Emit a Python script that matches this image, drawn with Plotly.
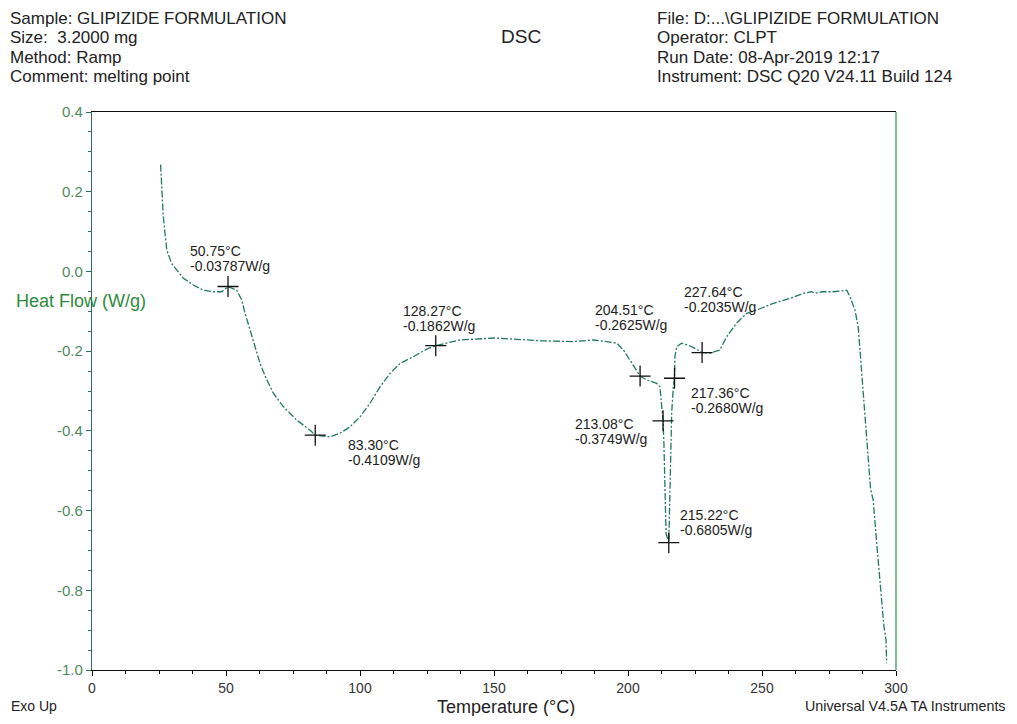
import plotly.graph_objects as go

# ---- data ----
temp_c = [25.6, 25.7, 25.8, 26.0, 26.6, 27.9, 29.7, 31.6, 34.1, 37.8, 41.5, 45.3, 48.4, 50.75,
          54.0, 55.9, 57.1, 59.0, 60.8, 62.7, 65.2, 67.7, 71.4, 76.4, 81.3, 83.3, 88.8, 92.5,
          96.3, 100.0, 103.7, 107.5, 111.2, 114.9, 119.9, 124.9, 128.27, 137.3, 150.4, 167.2,
          179.6, 187.1, 192.0, 195.8, 198.3, 200.7, 203.2, 204.51, 207.0, 210.7, 211.9, 212.6,
          213.08, 213.4, 213.8, 214.2, 215.22, 215.7, 216.0, 216.3, 216.9, 217.36, 217.5, 218.2,
          220.0, 222.5, 225.0, 227.64, 230.6, 234.3, 236.8, 240.5, 244.3, 248.0, 254.2, 260.4,
          265.4, 268.5, 269.8, 272.3, 276.6, 281.6, 282.8, 284.7, 285.9, 286.8, 287.8, 288.8,
          289.7, 290.0, 290.3, 290.1, 290.5, 290.9, 291.5, 292.8, 293.8, 294.7, 295.5, 296.3,
          296.5]
heat_flow = [0.268, 0.250, 0.235, 0.200, 0.137, 0.054, 0.020, 0.004, -0.017, -0.034, -0.047,
             -0.051, -0.051, -0.0379, -0.047, -0.072, -0.105, -0.147, -0.189, -0.231, -0.272,
             -0.306, -0.339, -0.373, -0.398, -0.4109, -0.415, -0.406, -0.390, -0.365, -0.331,
             -0.289, -0.256, -0.231, -0.214, -0.195, -0.1862, -0.172, -0.167, -0.174, -0.176,
             -0.172, -0.176, -0.180, -0.197, -0.222, -0.247, -0.2625, -0.272, -0.281, -0.289,
             -0.331, -0.3749, -0.431, -0.557, -0.657, -0.6805, -0.557, -0.431, -0.356, -0.290,
             -0.2680, -0.214, -0.189, -0.180, -0.185, -0.193, -0.2035, -0.205, -0.197, -0.164,
             -0.130, -0.105, -0.097, -0.080, -0.068, -0.055, -0.051, -0.055, -0.051, -0.051,
             -0.047, -0.063, -0.097, -0.139, -0.222, -0.306, -0.406, -0.473, -0.500, -0.540,
             -0.515, -0.545, -0.557, -0.574, -0.682, -0.766, -0.824, -0.891, -0.925, -0.983]

peak_temp = [50.75, 83.30, 128.27, 204.51, 227.64, 217.36, 213.08, 215.22]
peak_flow = [-0.03787, -0.4109, -0.1862, -0.2625, -0.2035, -0.2680, -0.3749, -0.6805]
# label offsets (pixels) relative to each marker: left edge, line-1 and line-2 centres
label_dx = [-40, 31, -35, -47, -20, 14, -90, 9]
label_dy1 = [36, -10, 35, 66, 61, -15, -3, 28]
label_dy2 = [21, -25, 20, 51, 46, -30, -18, 13]

header_left = ["Sample: GLIPIZIDE FORMULATION", "Size:  3.2000 mg", "Method: Ramp",
               "Comment: melting point"]
header_right = ["File: D:...\\GLIPIZIDE FORMULATION", "Operator: CLPT",
                "Run Date: 08-Apr-2019 12:17", "Instrument: DSC Q20 V24.11 Build 124"]
header_rows_y = [18, 38, 57, 76]

x_ticks = [0, 50, 100, 150, 200, 250, 300]
y_ticks = [0.4, 0.2, 0.0, -0.2, -0.4, -0.6, -0.8, -1.0]

# ---- figure (page has an 8px body margin) ----
PAGE_OFF = 8
W, H = 1017 - 2 * PAGE_OFF, 724 - 2 * PAGE_OFF
L, R, T, B = 92, 896, 112, 670          # plot area in page pixels
FONT = "Arial, Liberation Sans, sans-serif"
CURVE = "#237a5c"
TICKCOL = "#4f8a5c"
TXT = "#222222"

fig = go.Figure()
fig.add_trace(go.Scatter(x=temp_c, y=heat_flow, mode="lines",
                         line=dict(color=CURVE, width=1.3, dash="7px,2px,2px,2px"),
                         hoverinfo="skip", showlegend=False))
fig.add_trace(go.Scatter(x=peak_temp, y=peak_flow, mode="markers",
                         marker=dict(symbol="cross-thin", size=15,
                                     line=dict(color="#111111", width=1.3)),
                         hoverinfo="skip", showlegend=False))


def px_x(px):
    return (px - L) / (R - L)


def px_y(py):
    return (B - py) / (B - T)


annotations = []
for t, f, dx, dy1, dy2 in zip(peak_temp, peak_flow, label_dx, label_dy1, label_dy2):
    for txt, dy in ((f"{t:.2f}°C", dy1), (format(f, "#.4g") + "W/g", dy2)):
        annotations.append(dict(x=t, y=f, xref="x", yref="y", showarrow=False, text=txt,
                                xanchor="left", yanchor="middle", xshift=dx, yshift=dy,
                                font=dict(family=FONT, size=14, color=TXT)))

for line, yy in zip(header_left, header_rows_y):
    annotations.append(dict(x=px_x(8), y=px_y(yy), xref="paper", yref="paper",
                            text=line, showarrow=False, xanchor="left", yanchor="middle",
                            font=dict(family=FONT, size=17, color=TXT)))
for line, yy in zip(header_right, header_rows_y):
    annotations.append(dict(x=px_x(655), y=px_y(yy), xref="paper", yref="paper",
                            text=line, showarrow=False, xanchor="left", yanchor="middle",
                            font=dict(family=FONT, size=17, color=TXT)))

annotations += [
    dict(x=px_x(521), y=px_y(36), xref="paper", yref="paper", text="DSC", showarrow=False,
         xanchor="center", yanchor="middle", font=dict(family=FONT, size=19, color=TXT)),
    dict(x=px_x(14), y=px_y(301), xref="paper", yref="paper", text="Heat Flow (W/g)",
         showarrow=False, xanchor="left", yanchor="middle",
         font=dict(family=FONT, size=18, color="#2f8a40")),
    dict(x=px_x(506), y=px_y(707), xref="paper", yref="paper", text="Temperature (°C)",
         showarrow=False, xanchor="center", yanchor="middle",
         font=dict(family=FONT, size=18, color=TXT)),
    dict(x=px_x(9), y=px_y(706), xref="paper", yref="paper", text="Exo Up",
         showarrow=False, xanchor="left", yanchor="middle",
         font=dict(family=FONT, size=14, color=TXT)),
    dict(x=px_x(1008), y=px_y(706), xref="paper", yref="paper",
         text="Universal V4.5A TA Instruments", showarrow=False, xanchor="right",
         yanchor="middle", font=dict(family=FONT, size=14.3, color=TXT)),
]

fig.update_layout(
    width=W, height=H,
    margin=dict(l=L - PAGE_OFF, r=W - (R - PAGE_OFF), t=T - PAGE_OFF, b=H - (B - PAGE_OFF),
                pad=0),
    paper_bgcolor="white", plot_bgcolor="white",
    annotations=annotations,
    shapes=[dict(type="line", xref="paper", yref="paper", x0=1, x1=1, y0=0, y1=1,
                 line=dict(color="#2e8b57", width=1.2))],
    xaxis=dict(range=[0, 300], tickvals=x_ticks, ticktext=[str(v) for v in x_ticks],
               showgrid=False, zeroline=False, showline=True, linecolor="#111111",
               linewidth=1.3, mirror=True, ticks="outside", ticklen=5, tickcolor="#111111",
               tickfont=dict(family=FONT, size=14, color="#333333"),
               minor=dict(dtick=12.5, tick0=0, ticks="outside", ticklen=3,
                          tickcolor="#111111", showgrid=False)),
    yaxis=dict(range=[-1.0, 0.4], tickvals=y_ticks, ticktext=[f"{v:.1f}" for v in y_ticks],
               showgrid=False, zeroline=False, showline=True, linecolor="#2a6f5f",
               linewidth=1.3, ticks="outside", ticklen=5, tickcolor="#2a6f5f",
               tickfont=dict(family=FONT, size=15, color=TICKCOL),
               minor=dict(dtick=0.05, tick0=0, ticks="outside", ticklen=3,
                          tickcolor="#2a6f5f", showgrid=False)),
)

fig.write_html("out.html")
